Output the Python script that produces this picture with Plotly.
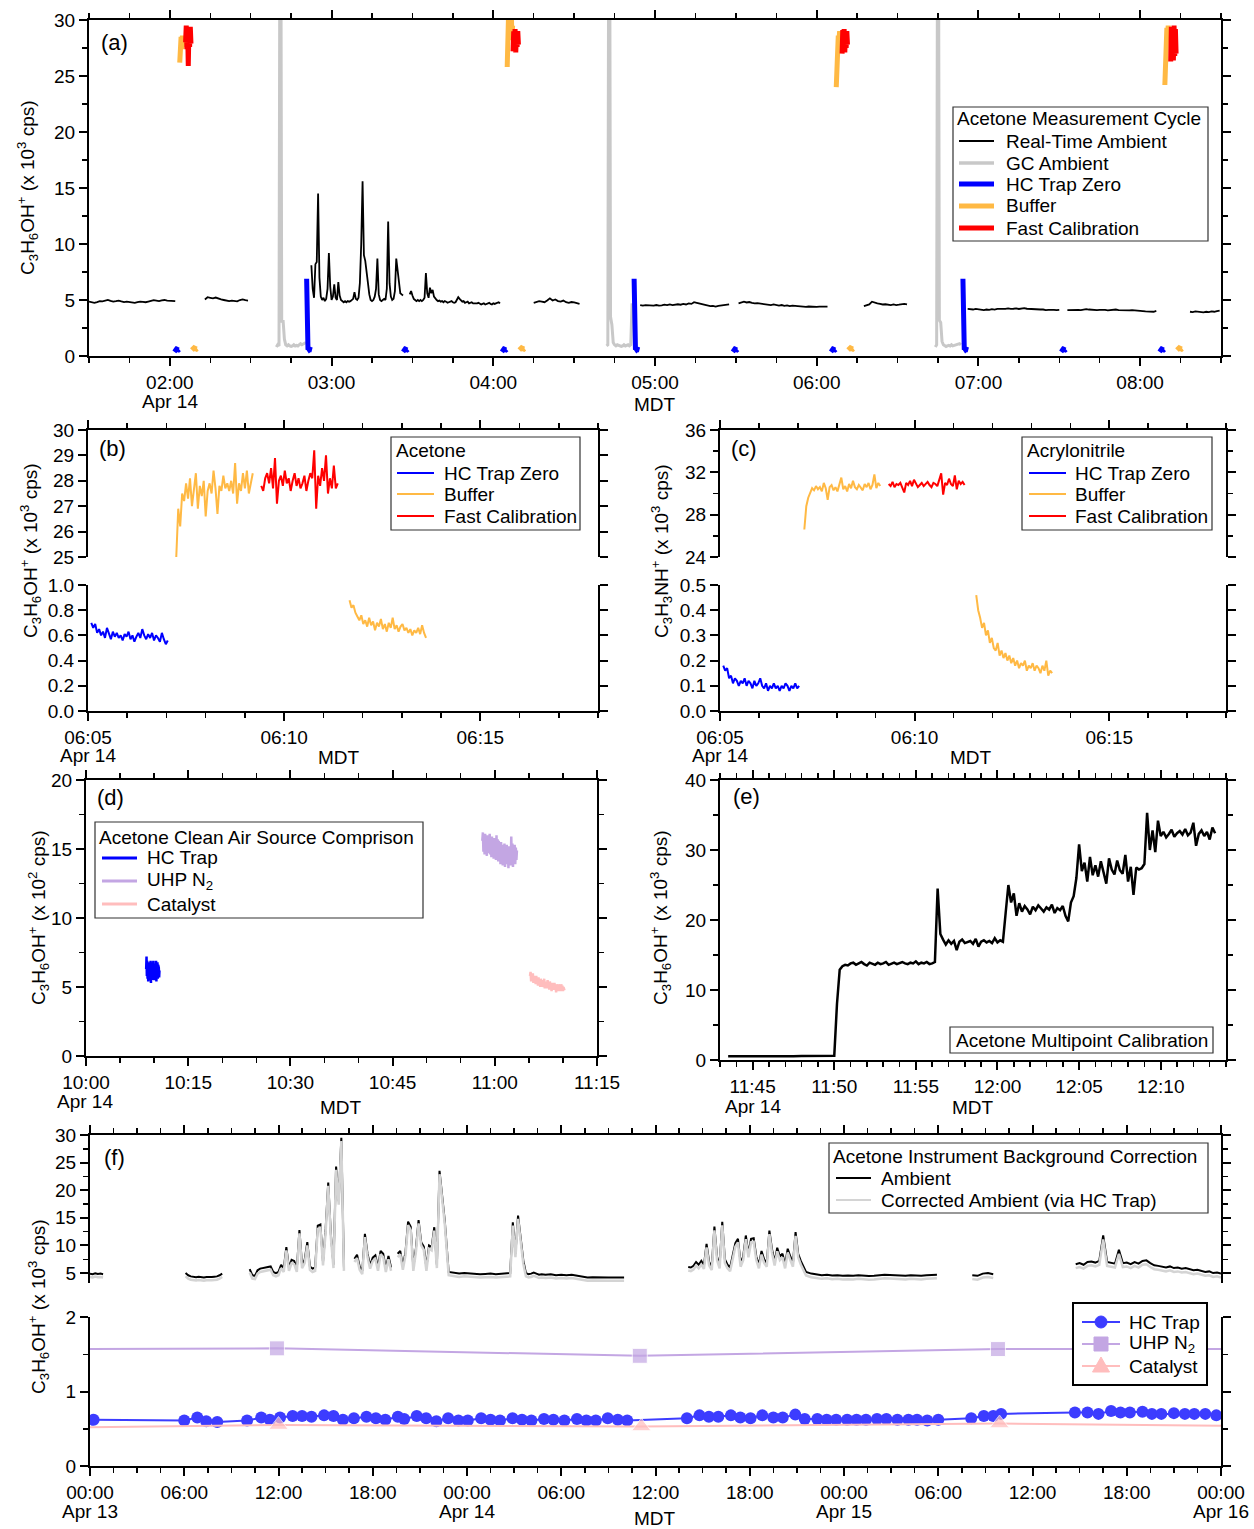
import plotly.graph_objects as go
from datetime import datetime, timedelta

# ======================= DATA =======================
# ---- Panel (a): Apr 14, acetone measurement cycle (values x 10^3 cps) ----
A_DAY = "2016-04-14 "
A_AMB_START = ["01:30:00", "02:13:00", "02:52:30", "03:29:00", "04:15:00", "04:54:30",
               "05:31:00", "06:17:30", "06:56:00", "07:33:00", "08:18:30"]
A_AMB_STEP_S = [60, 60, 30, 30, 60, 60, 60, 60, 60, 60, 60]
A_AMB_1 = [4.85, 4.80, 4.75, 4.82, 4.90, 4.88, 4.95, 5.00, 4.92, 4.86, 4.90, 4.95, 4.88, 4.82, 4.85, 4.80,
           4.78, 4.74, 4.80, 4.86, 4.84, 4.80, 4.86, 4.92, 4.98, 4.95, 4.90, 4.96, 5.00, 4.94, 4.92, 4.96, 4.90]
A_AMB_2 = [5.05, 5.25, 5.20, 5.15, 5.22, 5.10, 5.05, 5.00, 4.95, 4.90, 4.95, 4.92, 4.88, 5.00, 5.05, 4.98, 4.95]
A_AMB_3 = [8.1, 6.0, 5.2, 8.2, 8.4, 14.5, 7.0, 5.3, 5.0, 5.2, 4.9, 5.1, 6.0, 9.2, 6.2, 5.0, 5.3, 6.4, 5.2, 5.0,
           6.6, 5.4, 5.0, 4.9, 4.8, 4.9, 4.8, 4.9, 4.85, 4.9, 5.0, 5.1, 5.7, 5.1, 5.0, 5.2, 6.5, 10.0, 15.6, 9.0,
           8.5, 7.2, 6.5, 5.5, 5.0, 4.9, 5.0, 5.3, 6.0, 8.7, 5.5, 5.0, 4.9, 5.0, 5.1, 5.0, 6.0, 12.0, 6.5, 5.3,
           5.0, 5.1, 5.8, 8.7, 7.5, 6.2, 5.6, 5.5, 5.4]
A_AMB_4 = [5.5, 5.8, 5.4, 5.1, 5.0, 4.9, 5.0, 4.9, 5.0, 4.9, 5.0, 5.2, 7.4, 5.6, 5.2, 6.1, 5.6, 5.9, 5.3, 5.1,
           5.0, 4.9, 4.95, 4.85, 4.9, 4.8, 4.9, 4.85, 4.75, 4.8, 4.85, 4.9, 4.8, 4.75, 4.8, 5.0, 5.25, 5.1, 4.95,
           4.85, 4.9, 4.75, 4.8, 4.85, 4.7, 4.75, 4.8, 4.7, 4.7, 4.65, 4.7, 4.75, 4.65, 4.6, 4.65, 4.7, 4.6, 4.65,
           4.7, 4.75, 4.65, 4.6, 4.7, 4.65, 4.7, 4.75, 4.8, 4.7]
A_AMB_5 = [4.75, 4.80, 4.90, 4.85, 4.80, 4.95, 5.15, 4.95, 5.05, 4.90, 4.85, 4.95, 4.80, 4.75, 4.82, 4.78, 4.70, 4.65]
A_AMB_6 = [4.55, 4.50, 4.55, 4.52, 4.48, 4.50, 4.55, 4.50, 4.52, 4.58, 4.55, 4.60, 4.55, 4.58, 4.62, 4.58, 4.65,
           4.60, 4.70, 4.65, 4.80, 4.75, 4.68, 4.62, 4.55, 4.50, 4.45, 4.48, 4.42, 4.48, 4.52, 4.50, 4.55, 4.60]
A_AMB_7 = [4.70, 4.80, 4.85, 4.78, 4.82, 4.75, 4.70, 4.72, 4.68, 4.62, 4.60, 4.58, 4.55, 4.60, 4.52, 4.50, 4.55,
           4.48, 4.52, 4.45, 4.50, 4.48, 4.42, 4.45, 4.40, 4.38, 4.42, 4.40, 4.35, 4.38, 4.40, 4.42, 4.38, 4.40]
A_AMB_8 = [4.45, 4.55, 4.60, 4.85, 4.75, 4.70, 4.65, 4.60, 4.62, 4.58, 4.55, 4.60, 4.55, 4.58, 4.62, 4.65, 4.60]
A_AMB_9 = [4.20, 4.18, 4.15, 4.20, 4.15, 4.12, 4.10, 4.15, 4.12, 4.18, 4.15, 4.20, 4.18, 4.22, 4.20, 4.25, 4.20,
           4.22, 4.25, 4.20, 4.25, 4.28, 4.22, 4.20, 4.15, 4.18, 4.12, 4.15, 4.15, 4.10, 4.12, 4.15, 4.12, 4.10, 4.12]
A_AMB_10 = [4.10, 4.12, 4.10, 4.15, 4.12, 4.10, 4.15, 4.18, 4.15, 4.12, 4.15, 4.10, 4.12, 4.15, 4.12, 4.08, 4.10,
            4.12, 4.15, 4.10, 4.08, 4.10, 4.05, 4.08, 4.10, 4.06, 4.05, 4.02, 4.00, 3.98, 3.95, 3.98, 3.95, 4.02]
A_AMB_11 = [3.95, 3.92, 3.98, 3.95, 3.92, 3.90, 3.95, 3.92, 3.98, 3.95, 4.00, 4.05]

A_GC_START = ["02:39:30", "04:42:00", "06:44:00"]
A_GC_STEP_S = 30
A_GC_1 = [0.8, 1.0, 0.9, 60, 3.0, 3.2, 1.5, 1.0, 0.9, 1.0, 0.9, 0.85, 0.9, 1.0, 0.9, 0.95, 0.9, 1.0, 1.1, 1.0, 1.05, 1.15, 1.2]
A_GC_2 = [0.9, 1.0, 60, 3.5, 2.8, 1.2, 1.0, 0.9, 1.0, 0.95, 0.9, 0.85, 0.9, 1.0, 0.9, 0.95, 1.0, 0.9, 1.0, 4.7]
A_GC_3 = [0.8, 1.0, 60, 3.2, 3.0, 1.3, 1.0, 0.9, 0.85, 0.9, 0.95, 0.9, 1.0, 0.9, 0.95, 1.0, 1.0, 1.05, 1.1, 1.0]

A_SHORT_STEP_S = 15
A_TRAP_START = ["02:01:30", "03:26:20", "04:03:00", "05:28:40", "06:05:05", "07:30:30", "08:07:00"]
A_TRAP_VALS = [0.68, 0.58, 0.64, 0.55, 0.62, 0.57, 0.60, 0.54, 0.59]
A_POSTGC_START = ["02:50:45", "04:52:15", "06:54:15"]
A_POSTGC_VALS = [6.9, 0.62, 0.56, 0.64, 0.55, 0.60, 0.58, 0.62, 0.55]
A_BUFHI_START = ["02:03:40", "04:05:10", "06:07:15", "08:09:10"]
A_BUFHI_1 = [26.2, 27.6, 28.5, 27.4, 28.6, 27.8, 28.3, 27.6, 28.4]
A_BUFHI_2 = [25.8, 28.0, 30.5, 28.2, 31.0, 28.6, 30.8, 28.4, 29.5]
A_BUFHI_3 = [24.0, 26.8, 27.9, 28.6, 28.1, 29.0, 28.3, 28.8, 28.5]
A_BUFHI_4 = [24.2, 27.0, 28.2, 29.3, 28.4, 29.5, 28.6, 29.2, 28.8]
A_CAL_START = ["02:05:50", "04:07:20", "06:09:25", "08:11:20"]
A_CAL_1 = [28.0, 29.5, 27.4, 29.3, 25.9, 29.2, 27.6, 29.4, 27.9]
A_CAL_2 = [27.2, 29.0, 27.4, 29.2, 27.1, 28.8, 27.6, 29.0, 27.8]
A_CAL_3 = [27.0, 29.1, 27.3, 29.2, 27.1, 28.9, 27.5, 29.0, 27.8]
A_CAL_4 = [26.3, 29.4, 26.6, 29.3, 26.4, 29.5, 26.8, 29.2, 27.0]
A_BUFLO_START = ["02:08:10", "04:09:40", "06:11:40", "08:13:40"]
A_BUFLO_VALS = [0.85, 0.72, 0.78, 0.66, 0.70, 0.64, 0.68, 0.62, 0.66]

A_TICKTEXT = ["02:00", "03:00", "04:00", "05:00", "06:00", "07:00", "08:00"]
DATE_APR14 = "Apr 14"

# ---- Panel (b): acetone cycle detail (3 s data) ----
BC_STEP_S = 3
B_TRAP_START = "06:05:05"
B_TRAP = [0.70, 0.66, 0.69, 0.62, 0.65, 0.60, 0.63, 0.58, 0.66, 0.61, 0.57, 0.63, 0.59, 0.62, 0.58, 0.60, 0.56,
          0.61, 0.59, 0.63, 0.57, 0.60, 0.55, 0.59, 0.62, 0.58, 0.65, 0.60, 0.57, 0.61, 0.58, 0.62, 0.56, 0.60,
          0.58, 0.55, 0.62, 0.57, 0.53, 0.56]
B_BUFHI_START = "06:07:15"
B_BUFHI = [25.0, 26.9, 26.2, 27.5, 27.2, 27.9, 27.3, 28.1, 27.0, 27.7, 28.3, 26.9, 27.8, 27.4, 28.0, 26.6, 27.6,
           27.9, 27.5, 28.4, 27.7, 26.7, 27.8, 27.6, 28.2, 27.7, 27.9, 27.6, 28.0, 27.5, 28.7, 27.1, 27.9, 27.6,
           28.3, 27.7, 28.4, 27.5, 27.9, 28.3]
B_CAL_START = "06:09:25"
B_CAL = [27.8, 27.6, 28.1, 28.3, 27.9, 28.5, 27.7, 28.9, 27.1, 28.0, 28.2, 27.8, 28.4, 27.9, 28.1, 27.6, 28.0,
         28.3, 27.8, 28.1, 27.7, 27.9, 28.2, 27.6, 28.0, 28.3, 28.1, 29.2, 26.9, 28.2, 27.8, 28.5, 28.0, 29.0,
         27.5, 28.1, 27.7, 28.6, 27.7, 27.9]
B_BUFLO_START = "06:11:40"
B_BUFLO = [0.88, 0.82, 0.84, 0.78, 0.75, 0.72, 0.76, 0.69, 0.72, 0.67, 0.74, 0.68, 0.71, 0.64, 0.70, 0.67, 0.73,
           0.65, 0.69, 0.63, 0.70, 0.66, 0.74, 0.65, 0.68, 0.63, 0.67, 0.69, 0.64, 0.66, 0.62, 0.65, 0.60, 0.64,
           0.62, 0.66, 0.61, 0.68, 0.62, 0.58]

# ---- Panel (c): acrylonitrile cycle detail ----
C_TRAP_START = "06:05:05"
C_TRAP = [0.18, 0.16, 0.17, 0.13, 0.14, 0.11, 0.13, 0.12, 0.10, 0.12, 0.11, 0.13, 0.10, 0.12, 0.11, 0.09, 0.12,
          0.10, 0.11, 0.13, 0.10, 0.09, 0.11, 0.08, 0.10, 0.09, 0.11, 0.09, 0.10, 0.08, 0.10, 0.09, 0.11, 0.10,
          0.08, 0.10, 0.09, 0.11, 0.09, 0.10]
C_BUFHI_START = "06:07:10"
C_BUFHI = [26.6, 28.8, 29.6, 30.1, 30.5, 30.3, 30.7, 30.4, 30.6, 30.2, 31.0, 30.5, 29.4, 30.6, 30.8, 30.3, 30.6,
           30.2, 30.8, 31.5, 30.4, 30.7, 30.2, 30.9, 30.5, 31.2, 30.6, 30.4, 30.8, 30.5, 30.3, 30.9, 30.6, 31.0,
           30.4, 30.8, 31.8, 30.5, 31.0, 30.7]
C_CAL_START = "06:09:20"
C_CAL = [30.9, 30.7, 31.1, 30.6, 30.9, 30.8, 31.0, 30.5, 30.1, 31.0, 30.8, 31.2, 30.7, 31.3, 30.9, 30.6, 30.8,
         31.0, 30.7, 30.9, 31.1, 30.8, 30.6, 31.0, 30.9, 30.7, 31.2, 31.9, 29.9, 31.0, 30.8, 31.4, 30.9, 30.7,
         31.7, 30.4, 31.2, 30.9, 31.1, 30.8]
C_BUFLO_START = "06:11:35"
C_BUFLO = [0.46, 0.40, 0.37, 0.33, 0.35, 0.30, 0.32, 0.27, 0.29, 0.25, 0.24, 0.27, 0.22, 0.24, 0.21, 0.23, 0.20,
           0.22, 0.19, 0.21, 0.18, 0.20, 0.17, 0.19, 0.18, 0.20, 0.16, 0.18, 0.17, 0.19, 0.16, 0.18, 0.17, 0.15,
           0.18, 0.16, 0.20, 0.14, 0.16, 0.15]
BC_TICKTEXT = ["06:05", "06:10", "06:15"]

# ---- Panel (d): clean air source comparison (x 10^2 cps) ----
D_TRAP_START, D_TRAP_STEP_S = "10:08:50", 3
D_TRAP = [6.3, 7.2, 5.8, 6.9, 5.6, 6.7, 5.4, 6.5, 5.9, 6.8, 5.5, 6.4, 5.7, 6.9, 5.3, 6.6, 5.9, 6.2, 5.6, 6.8,
          5.5, 6.9, 5.7, 6.4, 5.5, 6.7, 5.8, 6.3, 5.6, 6.9, 5.4, 6.5, 5.9, 6.8, 5.6, 6.6, 5.8, 6.4, 5.7, 6.2]
D_UHP_START, D_UHP_STEP_S = "10:58:10", 5
D_UHP = [15.6, 16.2, 14.8, 16.0, 14.6, 16.1, 15.0, 15.9, 14.5, 16.0, 14.7, 15.8, 14.9, 16.1, 14.6, 15.7, 14.4,
         15.9, 14.8, 15.6, 14.3, 15.8, 14.6, 15.5, 14.2, 16.0, 14.4, 15.7, 14.1, 15.6, 14.3, 15.4, 13.9, 15.5,
         14.2, 15.3, 13.8, 15.2, 14.0, 15.4, 13.7, 15.1, 14.1, 15.3, 13.9, 15.0, 13.6, 15.2, 14.0, 15.1, 13.8,
         15.9, 14.1, 15.4, 13.7, 15.2, 14.0, 15.3, 13.9, 15.1, 14.2, 14.9]
D_CAT_START, D_CAT_STEP_S = "11:05:10", 5
D_CAT = [5.8, 6.1, 5.4, 5.9, 5.5, 6.0, 5.3, 5.8, 5.4, 5.7, 5.2, 5.8, 5.3, 5.6, 5.1, 5.7, 5.2, 5.5, 5.0, 5.6,
         5.2, 5.5, 5.0, 5.4, 5.1, 5.6, 4.9, 5.4, 5.1, 5.3, 4.9, 5.5, 5.0, 5.3, 4.8, 5.4, 5.0, 5.2, 4.7, 5.3,
         4.9, 5.2, 4.8, 5.3, 4.9, 5.1, 4.6, 5.2, 4.8, 5.1, 4.7, 5.2, 4.9, 5.0, 4.7, 5.2, 4.8, 5.1, 4.7, 5.0,
         4.8, 4.9]
D_TICKTEXT = ["10:00", "10:15", "10:30", "10:45", "11:00", "11:15"]

# ---- Panel (e): multipoint calibration ----
E_START = ["11:43:30", "11:50:00", "11:56:10", "12:00:30", "12:04:50", "12:09:00"]
E_STEP_S = [30, 10, 10, 10, 10, 10]
E_1 = [0.55, 0.52, 0.56, 0.54, 0.55, 0.53, 0.56, 0.55, 0.54, 0.56, 0.55, 0.57, 0.56]
E_2 = [0.6, 8.0, 12.9, 13.4, 13.6, 13.5, 13.8, 13.9, 13.6, 13.8, 14.0, 13.7, 13.5, 13.9, 13.8, 13.6, 13.9, 13.7,
       13.8, 14.0, 13.6, 13.8, 13.9, 13.7, 13.8, 14.0, 13.8, 13.7, 13.9, 13.8, 14.1, 13.7, 13.9, 13.8, 14.0, 13.7, 13.8]
E_3 = [14.0, 24.5, 18.0, 17.2, 16.5, 17.1, 16.6, 17.0, 15.7, 16.9, 17.2, 16.7, 16.9, 17.0, 16.6, 17.3, 16.2,
       16.9, 17.1, 16.8, 17.0, 16.7, 17.4, 16.8, 17.1, 16.9]
E_4 = [21.0, 25.0, 22.5, 23.8, 20.6, 22.4, 21.2, 22.0, 21.5, 20.8, 21.9, 21.4, 22.1, 21.6, 21.2, 21.8, 21.5,
       22.2, 21.0, 21.7, 21.4, 22.0, 20.6, 19.8, 22.5, 23.4]
E_5 = [26.0, 30.8, 27.0, 28.2, 25.5, 29.0, 26.4, 27.8, 26.2, 28.4, 27.0, 25.2, 28.8, 27.2, 26.5, 28.5, 27.1,
       26.6, 29.3, 25.5, 27.6, 23.6, 27.5, 27.2, 27.4]
E_6 = [28.0, 35.3, 30.0, 32.8, 29.7, 34.2, 32.0, 32.6, 31.8, 32.3, 32.9, 31.9, 32.4, 32.7, 32.2, 33.0, 32.1,
       32.5, 33.9, 30.6, 32.3, 32.8, 32.0, 32.6, 31.5, 33.2, 32.4]
E_TICKTEXT = ["11:45", "11:50", "11:55", "12:00", "12:05", "12:10"]

# ---- Panel (f): background correction over three days ----
F_AMB_START = ["2016-04-13 00:00", "2016-04-13 06:05", "2016-04-13 10:10", "2016-04-13 16:50",
               "2016-04-13 19:35", "2016-04-13 22:50", "2016-04-14 02:45", "2016-04-14 05:00",
               "2016-04-14 14:05", "2016-04-14 21:55", "2016-04-15 08:10", "2016-04-15 14:45"]
F_AMB_STEP_MIN = [10, 10, 10, 10, 10, 20, 10, 20, 10, 20, 20, 15]
F_AMB_1 = [4.9, 4.8, 4.95, 4.85, 4.9, 4.8]
F_AMB_2 = [5.0, 4.6, 4.4, 4.3, 4.25, 4.35, 4.3, 4.2, 4.3, 4.25, 4.3, 4.35, 4.4, 4.6, 4.9]
F_AMB_3 = [5.7, 4.6, 4.5, 5.5, 5.8, 5.9, 6.0, 6.1, 6.2, 5.2, 5.0, 5.2, 6.5, 5.8, 9.7, 6.0, 7.4, 7.2, 5.8, 12.8,
           6.5, 7.4, 10.6, 6.2, 5.8, 6.0, 13.6, 13.8, 7.0, 13.0, 21.4, 12.0, 6.5, 24.3, 18.0, 29.5, 6.0]
F_AMB_4 = [7.6, 8.3, 6.2, 5.4, 12.1, 8.5, 6.4, 7.8, 8.2, 6.0, 9.0, 8.5, 5.8, 8.1, 6.0]
F_AMB_5 = [8.5, 9.0, 6.2, 8.8, 14.3, 13.4, 6.0, 9.5, 14.6, 10.6, 9.8, 6.0, 10.0, 9.7, 13.3, 6.5, 23.5, 19.5, 14.5]
F_AMB_6 = [5.2, 5.0, 4.9, 5.0, 4.9, 4.85, 4.8, 4.85, 4.9, 4.8, 4.9, 5.0]
F_AMB_7 = [5.0, 14.2, 8.5, 15.4, 11.7, 7.3, 5.0, 4.8, 4.9, 5.1, 4.9, 4.7, 4.8]
F_AMB_8 = [4.7, 4.8, 4.6, 4.7, 4.6, 4.7, 4.5, 4.3, 4.2, 4.25, 4.2, 4.15, 4.2, 4.2, 4.25, 4.2]
F_AMB_9 = [6.1, 6.0, 6.3, 7.0, 6.5, 7.2, 6.4, 10.3, 7.0, 6.2, 13.4, 8.0, 6.5, 14.3, 7.5, 6.5, 6.0, 8.5, 10.4,
           11.2, 6.8, 8.0, 11.8, 8.5, 11.2, 11.3, 8.0, 6.5, 9.0, 7.5, 6.8, 12.7, 9.3, 7.0, 9.6, 8.0, 8.5, 6.5,
           9.4, 8.0, 6.8, 12.4, 8.5, 7.2, 6.2, 5.2]
F_AMB_10 = [4.9, 4.8, 4.6, 4.7, 4.55, 4.6, 4.5, 4.55, 4.5, 4.6, 4.5, 4.45, 4.5, 4.6, 4.7, 4.65, 4.6, 4.55, 4.5,
            4.6, 4.55, 4.5, 4.6, 4.65, 4.7]
F_AMB_11 = [4.6, 4.5, 4.9, 5.0, 4.8]
F_AMB_12 = [6.6, 6.8, 6.5, 7.0, 7.1, 6.9, 7.2, 11.8, 7.0, 6.8, 6.7, 9.2, 6.8, 6.9, 6.6, 7.0, 6.7, 7.2, 7.3, 6.8,
            6.4, 6.3, 6.2, 6.0, 6.2, 5.9, 6.0, 5.8, 5.9, 5.7, 5.5, 5.6, 5.4, 5.2, 5.3, 5.0, 5.1, 4.9]
F_COR_1 = [4.3, 4.2, 4.35, 4.25, 4.3, 4.2]
F_COR_2 = [4.4, 4.0, 3.8, 3.7, 3.65, 3.75, 3.7, 3.6, 3.7, 3.65, 3.7, 3.75, 3.8, 4.0, 4.3]
F_COR_3 = [5.1, 4.0, 3.9, 4.9, 5.2, 5.3, 5.4, 5.5, 5.6, 4.6, 4.4, 4.6, 5.9, 5.2, 9.1, 5.4, 6.8, 6.6, 5.2, 12.2,
           5.9, 6.8, 10.0, 5.6, 5.2, 5.4, 13.0, 13.2, 6.4, 12.4, 20.8, 11.4, 5.9, 23.7, 17.4, 28.9, 5.4]
F_COR_4 = [7.0, 7.7, 5.6, 4.8, 11.5, 7.9, 5.8, 7.2, 7.6, 5.4, 8.4, 7.9, 5.2, 7.5, 5.4]
F_COR_5 = [7.9, 8.4, 5.6, 8.2, 13.7, 12.8, 5.4, 8.9, 14.0, 10.0, 9.2, 5.4, 9.4, 9.1, 12.7, 5.9, 22.9, 18.9, 13.9]
F_COR_6 = [4.6, 4.4, 4.3, 4.4, 4.3, 4.25, 4.2, 4.25, 4.3, 4.2, 4.3, 4.4]
F_COR_7 = [4.4, 13.6, 7.9, 14.8, 11.1, 6.7, 4.4, 4.2, 4.3, 4.5, 4.3, 4.1, 4.2]
F_COR_8 = [4.1, 4.2, 4.0, 4.1, 4.0, 4.1, 3.9, 3.7, 3.6, 3.65, 3.6, 3.55, 3.6, 3.6, 3.65, 3.6]
F_COR_9 = [5.45, 5.35, 5.65, 6.35, 5.85, 6.55, 5.75, 9.65, 6.35, 5.55, 12.75, 7.35, 5.85, 13.65, 6.85, 5.85,
           5.35, 7.85, 9.75, 10.55, 6.15, 7.35, 11.15, 7.85, 10.55, 10.65, 7.35, 5.85, 8.35, 6.85, 6.15, 12.05,
           8.65, 6.35, 8.95, 7.35, 7.85, 5.85, 8.75, 7.35, 6.15, 11.75, 7.85, 6.55, 5.55, 4.55]
F_COR_10 = [4.25, 4.15, 3.95, 4.05, 3.9, 3.95, 3.85, 3.9, 3.85, 3.95, 3.85, 3.8, 3.85, 3.95, 4.05, 4.0, 3.95,
            3.9, 3.85, 3.95, 3.9, 3.85, 3.95, 4.0, 4.05]
F_COR_11 = [3.9, 3.8, 4.2, 4.3, 4.1]
F_COR_12 = [5.9, 6.1, 5.8, 6.3, 6.4, 6.2, 6.5, 11.1, 6.3, 6.1, 6.0, 8.5, 6.1, 6.2, 5.9, 6.3, 6.0, 6.5, 6.6, 6.1,
            5.7, 5.6, 5.5, 5.3, 5.5, 5.2, 5.3, 5.1, 5.2, 5.0, 4.8, 4.9, 4.7, 4.5, 4.6, 4.3, 4.4, 4.2]

F_BASE = "2016-04-13 00:00"
F_TRAP_HOURS = [0.23, 6.0, 6.83, 7.4, 8.1, 10.0, 10.9, 11.45, 12.1, 12.9, 13.5, 14.1, 14.9, 15.5, 16.1, 16.8,
                17.6, 18.2, 18.8, 19.6, 20.0, 20.8, 21.4, 22.05, 22.8, 23.45, 24.05, 24.9, 25.5, 26.1, 26.9,
                27.5, 28.1, 28.9, 29.5, 30.2, 31.0, 31.6, 32.2, 32.96, 33.6, 34.2, 38.0, 38.8, 39.4, 40.0,
                40.8, 41.4, 42.05, 42.8, 43.5, 44.1, 44.9, 45.5, 46.3, 46.9, 47.5, 48.2, 48.8, 49.4, 50.1,
                50.7, 51.4, 52.1, 52.65, 53.3, 54.0, 56.1, 56.9, 57.5, 58.0, 62.7, 63.5, 64.2, 65.0, 65.6,
                66.2, 67.0, 67.6, 68.2, 69.0, 69.7, 70.3, 71.0, 71.7]
F_TRAP = [0.62, 0.61, 0.65, 0.60, 0.59, 0.61, 0.65, 0.62, 0.65, 0.67, 0.67, 0.66, 0.68, 0.67, 0.62, 0.64, 0.66,
          0.64, 0.62, 0.66, 0.63, 0.67, 0.64, 0.60, 0.64, 0.61, 0.61, 0.64, 0.62, 0.61, 0.64, 0.62, 0.61, 0.63,
          0.62, 0.61, 0.63, 0.61, 0.61, 0.64, 0.62, 0.61, 0.64, 0.68, 0.66, 0.66, 0.68, 0.65, 0.64, 0.68, 0.65,
          0.65, 0.69, 0.63, 0.63, 0.62, 0.62, 0.62, 0.62, 0.62, 0.63, 0.63, 0.62, 0.62, 0.62, 0.61, 0.62, 0.64,
          0.67, 0.67, 0.70, 0.72, 0.72, 0.70, 0.74, 0.72, 0.72, 0.73, 0.70, 0.70, 0.71, 0.70, 0.70, 0.70, 0.68]
F_UHP_HOURS = [0.0, 11.9, 35.0, 57.8, 72.0]
F_UHP = [1.57, 1.58, 1.48, 1.57, 1.57]
F_CAT_HOURS = [0.0, 12.0, 35.1, 57.9, 72.0]
F_CAT = [0.52, 0.55, 0.53, 0.57, 0.54]
F_TICKTEXT = ["00:00", "06:00", "12:00", "18:00", "00:00", "06:00", "12:00", "18:00",
              "00:00", "06:00", "12:00", "18:00", "00:00"]
F_DATE_LABELS = ["Apr 13", "Apr 14", "Apr 15", "Apr 16"]

# ======================= STYLE / HELPERS =======================
W, H = 1254, 1529
FONT = "Liberation Sans, Arial, sans-serif"
FS = 19
BLUE, ORANGE, RED = "#0000FF", "#FFB944", "#FF0000"
GCGRAY, CORGRAY = "#C8C8C8", "#D4D4D4"
PURPLE, PINK, FBLUE = "#C3A6E3", "#FFBDBD", "#3C3CFF"


def fx(p):
    return p / W


def fy(p):
    return 1 - p / H


def dt(s):
    return datetime.strptime(s, "%Y-%m-%d %H:%M:%S" if s.count(":") == 2 else "%Y-%m-%d %H:%M")


def series(day, starts, steps_s, value_lists):
    segs = sorted(zip([dt(day + s) for s in starts], steps_s, value_lists), key=lambda t: t[0])
    xs, ys = [], []
    prev_end = prev_step = None
    for t0, step, vals in segs:
        if prev_end is not None and (t0 - prev_end).total_seconds() > 1.5 * max(step, prev_step):
            xs.append(None)
            ys.append(None)
        for i, v in enumerate(vals):
            xs.append(t0 + timedelta(seconds=step * i))
            ys.append(v)
        prev_end = t0 + timedelta(seconds=step * (len(vals) - 1))
        prev_step = step
    return xs, ys


def trange(a, b, minutes):
    t, end, out = dt(a), dt(b), []
    while t <= end:
        out.append(t)
        t += timedelta(minutes=minutes)
    return out


AX = dict(showline=True, linecolor="black", linewidth=2, ticks="outside", ticklen=8, tickwidth=2,
          tickcolor="black", showgrid=False, zeroline=False, automargin=False,
          tickfont=dict(family=FONT, size=FS, color="black"))
MINOR = dict(ticks="outside", ticklen=5, tickwidth=1.5, tickcolor="black", showgrid=False)


def xdate(dom, anchor, rng, majors, texts, minors, side="bottom", labels=True, mirror=False):
    minors = [m for m in minors if m not in majors]
    d = dict(AX, domain=[fx(dom[0]), fx(dom[1])], anchor=anchor, type="date", range=rng, tickmode="array",
             tickvals=majors, ticktext=texts, side=side, showticklabels=labels,
             minor=dict(MINOR, tickmode="array", tickvals=minors))
    if mirror:
        d["mirror"] = "allticks"
    return d


def ylin(dom, anchor, rng, dtick, minor=None, fmt=None):
    d = dict(AX, domain=[fy(dom[1]), fy(dom[0])], anchor=anchor, range=rng, tickmode="linear", tick0=0,
             dtick=dtick, mirror="allticks")
    if minor:
        d["minor"] = dict(MINOR, tickmode="linear", tick0=0, dtick=minor)
    if fmt:
        d["tickformat"] = fmt
    return d


fig = go.Figure()


def add(x, y, xa, ya, color, width, **kw):
    fig.add_trace(go.Scatter(x=x, y=y, xaxis=xa, yaxis=ya, mode=kw.pop("mode", "lines"),
                             line=dict(color=color, width=width), showlegend=False, hoverinfo="skip", **kw))


# ======================= TRACES =======================
# (a)
gx, gy = series(A_DAY, A_GC_START, [A_GC_STEP_S] * 3, [A_GC_1, A_GC_2, A_GC_3])
add(gx, gy, "x", "y", GCGRAY, 3)
ax_, ay_ = series(A_DAY, A_AMB_START, A_AMB_STEP_S,
                  [A_AMB_1, A_AMB_2, A_AMB_3, A_AMB_4, A_AMB_5, A_AMB_6, A_AMB_7, A_AMB_8, A_AMB_9, A_AMB_10, A_AMB_11])
add(ax_, ay_, "x", "y", "black", 1.8)
tx, ty = series(A_DAY, A_TRAP_START + A_POSTGC_START, [A_SHORT_STEP_S] * 10,
                [A_TRAP_VALS] * len(A_TRAP_START) + [A_POSTGC_VALS] * len(A_POSTGC_START))
add(tx, ty, "x", "y", BLUE, 5)
bx, by = series(A_DAY, A_BUFHI_START + A_BUFLO_START, [A_SHORT_STEP_S] * 8,
                [A_BUFHI_1, A_BUFHI_2, A_BUFHI_3, A_BUFHI_4] + [A_BUFLO_VALS] * 4)
add(bx, by, "x", "y", ORANGE, 5)
cx, cy = series(A_DAY, A_CAL_START, [A_SHORT_STEP_S] * 4, [A_CAL_1, A_CAL_2, A_CAL_3, A_CAL_4])
add(cx, cy, "x", "y", RED, 5)

# (b) top x2/y2, bottom x3/y3 ; (c) top x4/y4, bottom x5/y5
for (trap_s, trap, hi_s, hi, cal_s, cal, lo_s, lo, xt, yt, xb, yb) in [
        (B_TRAP_START, B_TRAP, B_BUFHI_START, B_BUFHI, B_CAL_START, B_CAL, B_BUFLO_START, B_BUFLO,
         "x2", "y2", "x3", "y3"),
        (C_TRAP_START, C_TRAP, C_BUFHI_START, C_BUFHI, C_CAL_START, C_CAL, C_BUFLO_START, C_BUFLO,
         "x4", "y4", "x5", "y5")]:
    x_, y_ = series(A_DAY, [hi_s], [BC_STEP_S], [hi]); add(x_, y_, xt, yt, ORANGE, 2)
    x_, y_ = series(A_DAY, [cal_s], [BC_STEP_S], [cal]); add(x_, y_, xt, yt, RED, 2)
    x_, y_ = series(A_DAY, [trap_s], [BC_STEP_S], [trap]); add(x_, y_, xb, yb, BLUE, 2)
    x_, y_ = series(A_DAY, [lo_s], [BC_STEP_S], [lo]); add(x_, y_, xb, yb, ORANGE, 2)

# (d)
x_, y_ = series(A_DAY, [D_TRAP_START], [D_TRAP_STEP_S], [D_TRAP]); add(x_, y_, "x6", "y6", BLUE, 2.5)
x_, y_ = series(A_DAY, [D_UHP_START], [D_UHP_STEP_S], [D_UHP]); add(x_, y_, "x6", "y6", PURPLE, 2.5)
x_, y_ = series(A_DAY, [D_CAT_START], [D_CAT_STEP_S], [D_CAT]); add(x_, y_, "x6", "y6", PINK, 2.5)

# (e)
x_, y_ = series(A_DAY, E_START, E_STEP_S, [E_1, E_2, E_3, E_4, E_5, E_6]); add(x_, y_, "x7", "y7", "black", 2.5)

# (f) top
steps = [m * 60 for m in F_AMB_STEP_MIN]
x_, y_ = series("", F_AMB_START, steps, [F_AMB_1, F_AMB_2, F_AMB_3, F_AMB_4, F_AMB_5, F_AMB_6, F_AMB_7,
                                          F_AMB_8, F_AMB_9, F_AMB_10, F_AMB_11, F_AMB_12])
add(x_, y_, "x8", "y8", "black", 2)
x_, y_ = series("", F_AMB_START, steps, [F_COR_1, F_COR_2, F_COR_3, F_COR_4, F_COR_5, F_COR_6, F_COR_7,
                                          F_COR_8, F_COR_9, F_COR_10, F_COR_11, F_COR_12])
add(x_, y_, "x8", "y8", CORGRAY, 2.5)

# (f) bottom
fb = dt(F_BASE)
add([fb + timedelta(hours=h) for h in F_UHP_HOURS], F_UHP, "x9", "y9", PURPLE, 2, mode="lines+markers",
    marker=dict(symbol="square", size=[0, 15, 15, 15, 0], color=PURPLE))
add([fb + timedelta(hours=h) for h in F_TRAP_HOURS], F_TRAP, "x9", "y9", FBLUE, 2, mode="lines+markers",
    marker=dict(symbol="circle", size=12, color=FBLUE))
add([fb + timedelta(hours=h) for h in F_CAT_HOURS], F_CAT, "x9", "y9", PINK, 2, mode="lines+markers",
    marker=dict(symbol="triangle-up", size=[0, 17, 17, 17, 0], color=PINK))

# ======================= AXES =======================
D = "2016-04-14 "
a_major = trange(D + "02:00", D + "08:00", 60)
bc_major = trange(D + "06:05", D + "06:15", 5)
bc_minor = trange(D + "06:05", D + "06:18", 1)
d_major = trange(D + "10:00", D + "11:15", 15)
e_major = trange(D + "11:45", D + "12:10", 5)
f_major = trange("2016-04-13 00:00", "2016-04-16 00:00", 360)
f_minor = trange("2016-04-13 00:00", "2016-04-16 00:00", 90)

layout = dict(
    xaxis=xdate((89, 1221), "y", [D + "01:30", D + "08:30"], a_major, A_TICKTEXT,
                trange(D + "01:30", D + "08:30", 15), mirror=True),
    yaxis=ylin((20, 356), "x", [0, 30.001], 5, 2.5),
    xaxis2=xdate((88, 598), "y2", [D + "06:05", D + "06:18"], bc_major, BC_TICKTEXT, bc_minor, side="top", labels=False),
    yaxis2=ylin((430, 557), "x2", [24.999, 30.001], 1),
    xaxis3=xdate((88, 598), "y3", [D + "06:05", D + "06:18"], bc_major, BC_TICKTEXT, bc_minor),
    yaxis3=ylin((585, 711), "x3", [0, 1.0001], 0.2, fmt=".1f"),
    xaxis4=xdate((720, 1226), "y4", [D + "06:05", D + "06:18"], bc_major, BC_TICKTEXT, bc_minor, side="top", labels=False),
    yaxis4=ylin((430, 557), "x4", [23.999, 36.001], 4, 2),
    xaxis5=xdate((720, 1226), "y5", [D + "06:05", D + "06:18"], bc_major, BC_TICKTEXT, bc_minor),
    yaxis5=ylin((585, 711), "x5", [0, 0.5001], 0.1, fmt=".1f"),
    xaxis6=xdate((86, 597), "y6", [D + "10:00", D + "11:15"], d_major, D_TICKTEXT,
                 trange(D + "10:00", D + "11:15", 5), mirror=True),
    yaxis6=ylin((780, 1056), "x6", [0, 20.001], 5, 2.5),
    xaxis7=xdate((720, 1226), "y7", [D + "11:43", D + "12:14"], e_major, E_TICKTEXT,
                 trange(D + "11:43", D + "12:14", 1), mirror=True),
    yaxis7=ylin((780, 1060), "x7", [0, 40.001], 10, 5),
    xaxis8=xdate((90, 1221), "y8", ["2016-04-13 00:00", "2016-04-16 00:00"], f_major, F_TICKTEXT, f_minor,
                 side="top", labels=False),
    yaxis8=ylin((1135, 1283), "x8", [3.2, 30.001], 5, 2.5),
    xaxis9=xdate((90, 1221), "y9", ["2016-04-13 00:00", "2016-04-16 00:00"], f_major, F_TICKTEXT, f_minor),
    yaxis9=ylin((1317, 1466), "x9", [0, 2.001], 1, 0.5),
)

# ======================= LEGENDS / ANNOTATIONS =======================
shapes, annos = [], []


def box(x0, y0, x1, y1, w=1.2, color="#333333"):
    shapes.append(dict(type="rect", xref="paper", yref="paper", x0=fx(x0), x1=fx(x1), y0=fy(y1), y1=fy(y0),
                       line=dict(color=color, width=w), fillcolor="white", layer="above"))


def seg(x0, x1, y, color, w):
    shapes.append(dict(type="line", xref="paper", yref="paper", x0=fx(x0), x1=fx(x1), y0=fy(y), y1=fy(y),
                       line=dict(color=color, width=w), layer="above"))


def text(x, y, s, size=FS, anchor="left", angle=0):
    annos.append(dict(xref="paper", yref="paper", x=fx(x), y=fy(y), text=s, showarrow=False, xanchor=anchor,
                      yanchor="middle", textangle=angle, font=dict(family=FONT, size=size, color="black")))


def legend(bx, title, rows, lx0, lx1, tx):
    box(*bx)
    if title:
        text(title[0], title[1], title[2])
    for y, label, color, w in rows:
        seg(lx0, lx1, y, color, w)
        text(tx, y, label)


legend((953, 107, 1208, 241), (955, 119, "Acetone Measurement Cycle"),
       [(141, "Real-Time Ambient", "black", 2), (163, "GC Ambient", GCGRAY, 3.5), (184, "HC Trap Zero", BLUE, 5),
        (206, "Buffer", ORANGE, 5), (228, "Fast Calibration", RED, 5)], 959, 994, 1004)
legend((391, 437, 580, 530), (394, 451, "Acetone"),
       [(473, "HC Trap Zero", BLUE, 2), (494, "Buffer", ORANGE, 2), (516, "Fast Calibration", RED, 2)], 397, 434, 442)
legend((1022, 437, 1212, 530), (1025, 451, "Acrylonitrile"),
       [(473, "HC Trap Zero", BLUE, 2), (494, "Buffer", ORANGE, 2), (516, "Fast Calibration", RED, 2)], 1029, 1066, 1073)
legend((95, 822, 423, 918), (97, 837, "Acetone Clean Air Source Comprison"),
       [(858, "HC Trap", BLUE, 3), (881, "UHP N<sub>2</sub>", PURPLE, 3), (904, "Catalyst", PINK, 3)], 102, 137, 145)
legend((829, 1143, 1208, 1213), (831, 1156, "Acetone Instrument Background Correction"),
       [(1178, "Ambient", "black", 2), (1200, "Corrected Ambient (via HC Trap)", CORGRAY, 2)], 836, 871, 879)
legend((1073, 1303, 1207, 1385, 2, "black"), None,
       [(1322, "HC Trap", FBLUE, 2), (1344, "UHP N<sub>2</sub>", PURPLE, 2), (1366, "Catalyst", PINK, 2)],
       1082, 1120, 1127)
# legend markers for (f) bottom
shapes.append(dict(type="circle", xref="paper", yref="paper", x0=fx(1095), x1=fx(1107), y0=fy(1328),
                   y1=fy(1316), line=dict(color=FBLUE, width=1), fillcolor=FBLUE, layer="above"))
shapes.append(dict(type="rect", xref="paper", yref="paper", x0=fx(1094), x1=fx(1108), y0=fy(1351), y1=fy(1337),
                   line=dict(color=PURPLE, width=1), fillcolor=PURPLE, layer="above"))
shapes.append(dict(type="path", xref="paper", yref="paper",
                   path=f"M {fx(1092.5)},{fy(1372)} L {fx(1109.5)},{fy(1372)} L {fx(1101)},{fy(1357)} Z",
                   line=dict(color=PINK, width=1), fillcolor=PINK, layer="above"))

# (e) caption box
box(950, 1027, 1213, 1053)
text(1081.5, 1040, "Acetone Multipoint Calibration", anchor="center")

# panel letters
for x, y, s in [(99, 43, "(a)"), (97, 448, "(b)"), (729, 448, "(c)"), (95, 797, "(d)"), (731, 796, "(e)"),
                (102, 1157, "(f)")]:
    text(x, y, s, size=22)

# date lines under first tick labels
for x, y in [(170, 401), (88, 756), (720, 756), (85, 1101), (753, 1106)]:
    text(x, y, DATE_APR14, anchor="center")
for x, s in zip([90, 467, 844, 1221], F_DATE_LABELS):
    text(x, 1511, s, anchor="center")

# axis titles
Y_ACE3 = "C<sub>3</sub>H<sub>6</sub>OH<sup>+</sup> (x 10<sup>3</sup> cps)"
for x, y, s in [(27, 188, Y_ACE3), (30, 551, Y_ACE3),
                (661, 551, "C<sub>3</sub>H<sub>3</sub>NH<sup>+</sup> (x 10<sup>3</sup> cps)"),
                (38, 918, "C<sub>3</sub>H<sub>6</sub>OH<sup>+</sup> (x 10<sup>2</sup> cps)"),
                (660, 918, Y_ACE3), (38, 1307, Y_ACE3)]:
    text(x, y, s, anchor="center", angle=-90)
for x, y in [(655, 405), (339, 757), (971, 757), (341, 1107), (973, 1107), (655, 1518)]:
    text(x, y, "MDT", anchor="center")

fig.update_layout(
    width=W, height=H, margin=dict(l=0, r=0, t=0, b=0), template="none",
    paper_bgcolor="white", plot_bgcolor="white", showlegend=False, hovermode=False,
    font=dict(family=FONT, size=FS, color="black"),
    shapes=shapes, annotations=annos, **layout)

fig.write_html("out.html", config={"displayModeBar": False, "staticPlot": True},
               post_script="document.body.style.margin='0';document.body.style.padding='0';")
